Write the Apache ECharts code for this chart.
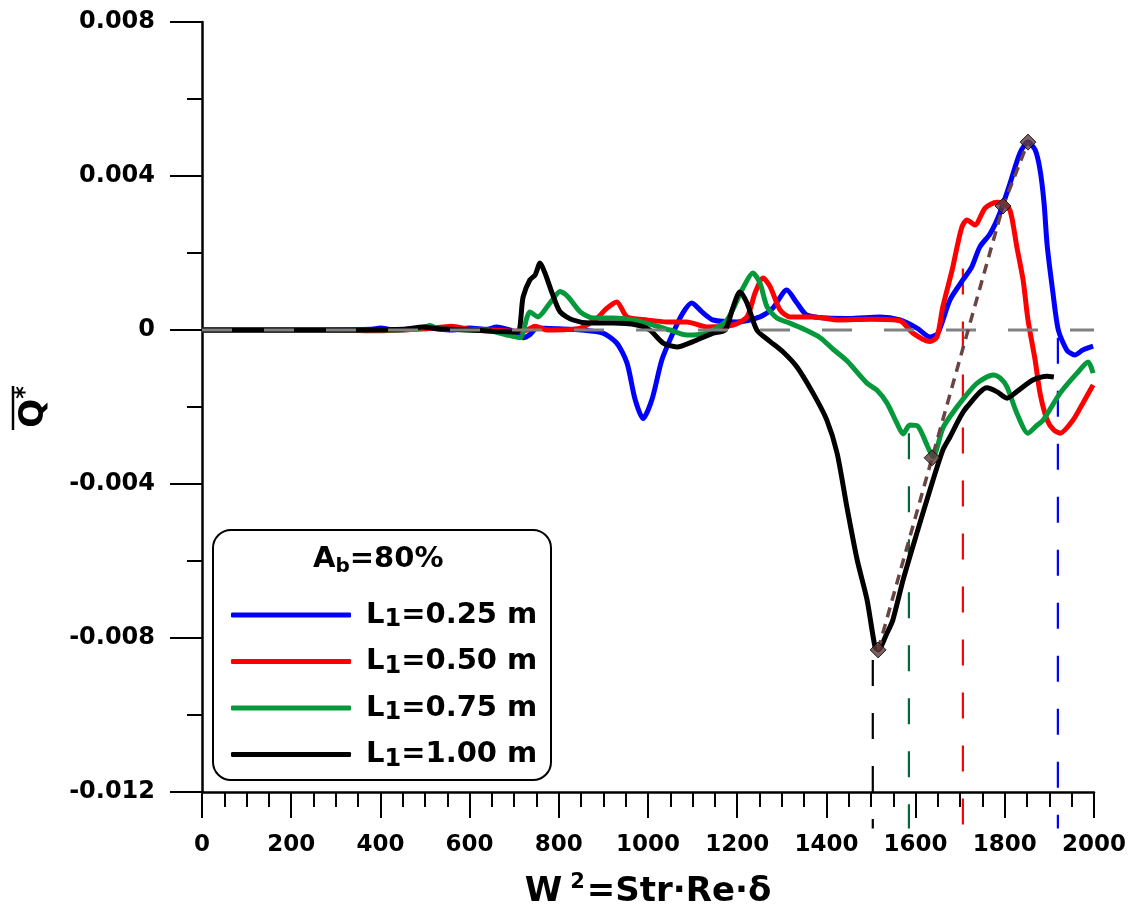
<!DOCTYPE html>
<html><head><meta charset="utf-8">
<script src="https://cdn.jsdelivr.net/npm/echarts@6/dist/echarts.min.js"></script>
<style>html,body{margin:0;padding:0;background:#fff}#c{width:1137px;height:909px}</style>
</head><body><div id="c"></div>
<script>
// ---- data ----
const seriesNames = ['L1=0.25 m', 'L1=0.50 m', 'L1=0.75 m', 'L1=1.00 m'];
const xTickValues = [0, 200, 400, 600, 800, 1000, 1200, 1400, 1600, 1800, 2000];
const yTickValues = [-0.012, -0.008, -0.004, 0, 0.004, 0.008];

const blueData = [[0,0],[100,0],[200,0],[300,0],[380,0.02e-3],[400,0.05e-3],[430,0],[500,0.05e-3],[560,0],[600,0.05e-3],[640,0.02e-3],[660,0.08e-3],[690,0],[710,-0.1e-3],[720,-0.2e-3],[735,-0.12e-3],[751,0.05e-3],[800,0.03e-3],[850,0],[899,-0.08e-3],[930,-0.34e-3],[953,-0.86e-3],[971,-1.8e-3],[989,-2.3e-3],[1009,-1.8e-3],[1031,-0.78e-3],[1056,-0.08e-3],[1078,0.44e-3],[1098,0.7e-3],[1121,0.47e-3],[1146,0.26e-3],[1200,0.21e-3],[1251,0.34e-3],[1280,0.57e-3],[1311,1.04e-3],[1334,0.7e-3],[1356,0.39e-3],[1401,0.31e-3],[1450,0.3e-3],[1520,0.34e-3],[1565,0.26e-3],[1603,0.05e-3],[1632,-0.18e-3],[1650,-0.08e-3],[1677,0.78e-3],[1706,1.3e-3],[1726,1.64e-3],[1744,2.16e-3],[1767,2.5e-3],[1789,3.04e-3],[1812,3.82e-3],[1834,4.6e-3],[1852,4.88e-3],[1868,4.68e-3],[1879,4.16e-3],[1888,3.3e-3],[1895,2.2e-3],[1908,0.96e-3],[1920,0],[1939,-0.52e-3],[1957,-0.65e-3],[1975,-0.52e-3],[1998,-0.42e-3]];

const redData = [[0,0],[300,0],[400,-0.02e-3],[450,0],[500,0.03e-3],[560,0.1e-3],[600,0.02e-3],[650,0],[700,-0.03e-3],[729,0],[747,0.1e-3],[773,0],[848,0.05e-3],[885,0.3e-3],[908,0.57e-3],[930,0.73e-3],[953,0.34e-3],[998,0.26e-3],[1043,0.21e-3],[1087,0.21e-3],[1132,0.08e-3],[1191,0.13e-3],[1222,0.34e-3],[1240,0.96e-3],[1258,1.35e-3],[1274,1.12e-3],[1296,0.52e-3],[1318,0.34e-3],[1370,0.34e-3],[1430,0.26e-3],[1500,0.28e-3],[1565,0.24e-3],[1594,-0.08e-3],[1632,-0.3e-3],[1648,-0.18e-3],[1661,0.6e-3],[1682,1.56e-3],[1693,2.16e-3],[1704,2.68e-3],[1715,2.86e-3],[1733,2.73e-3],[1756,3.17e-3],[1782,3.32e-3],[1796,3.3e-3],[1812,3.1e-3],[1827,2.16e-3],[1841,1.3e-3],[1852,0.26e-3],[1868,-0.78e-3],[1879,-1.64e-3],[1895,-2.34e-3],[1910,-2.6e-3],[1924,-2.68e-3],[1953,-2.34e-3],[1975,-1.9e-3],[1998,-1.43e-3]];

const greenData = [[0,0],[300,0],[450,0],[490,0.05e-3],[511,0.12e-3],[530,0.03e-3],[600,0],[650,-0.03e-3],[684,-0.13e-3],[713,-0.2e-3],[729,0.34e-3],[735,0.47e-3],[753,0.34e-3],[780,0.7e-3],[803,1.0e-3],[821,0.86e-3],[848,0.47e-3],[877,0.31e-3],[922,0.31e-3],[966,0.26e-3],[1011,0.13e-3],[1049,0],[1087,-0.13e-3],[1132,-0.08e-3],[1177,0.26e-3],[1213,1.09e-3],[1235,1.48e-3],[1251,1.22e-3],[1267,0.6e-3],[1289,0.31e-3],[1318,0.18e-3],[1350,0.02e-3],[1386,-0.2e-3],[1415,-0.5e-3],[1446,-0.8e-3],[1491,-1.38e-3],[1513,-1.56e-3],[1536,-1.9e-3],[1558,-2.42e-3],[1572,-2.7e-3],[1587,-2.47e-3],[1605,-2.5e-3],[1626,-3.0e-3],[1639,-3.3e-3],[1661,-2.55e-3],[1680,-2.2e-3],[1706,-1.8e-3],[1738,-1.38e-3],[1774,-1.17e-3],[1790,-1.25e-3],[1805,-1.48e-3],[1827,-2.16e-3],[1852,-2.68e-3],[1870,-2.5e-3],[1886,-2.34e-3],[1924,-1.64e-3],[1962,-1.12e-3],[1987,-0.83e-3],[1998,-1.12e-3]];

const blackData = [[0,0],[300,0],[450,0.02e-3],[496,0.08e-3],[530,0.03e-3],[600,0],[650,-0.03e-3],[706,-0.05e-3],[720,0.86e-3],[735,1.3e-3],[747,1.43e-3],[758,1.74e-3],[769,1.48e-3],[785,0.96e-3],[803,0.47e-3],[832,0.26e-3],[870,0.18e-3],[922,0.18e-3],[975,0.13e-3],[1004,0],[1034,-0.34e-3],[1065,-0.44e-3],[1101,-0.3e-3],[1146,-0.08e-3],[1173,0],[1191,0.6e-3],[1206,0.99e-3],[1222,0.7e-3],[1244,0],[1274,-0.3e-3],[1303,-0.57e-3],[1334,-0.96e-3],[1370,-1.64e-3],[1401,-2.34e-3],[1424,-3.2e-3],[1446,-4.6e-3],[1469,-5.97e-3],[1491,-7.0e-3],[1509,-8.23e-3],[1516,-8.31e-3],[1536,-7.87e-3],[1549,-7.53e-3],[1572,-6.49e-3],[1603,-5.27e-3],[1632,-4.16e-3],[1661,-3.12e-3],[1677,-2.78e-3],[1700,-2.26e-3],[1715,-2.0e-3],[1760,-1.5e-3],[1782,-1.6e-3],[1805,-1.77e-3],[1827,-1.6e-3],[1863,-1.3e-3],[1895,-1.2e-3],[1910,-1.22e-3]];

const peakPoints = [[1516,-8.31e-3],[1637,-3.32e-3],[1796,3.22e-3],[1852,4.88e-3]];
const dropX = [1504, 1585, 1706, 1919];
const dropTop = [-8.57e-3, -2.68e-3, 1.6e-3, -0.2e-3];
const dropBottom = -12.95e-3;
const zeroLine = [[0,0],[2000,0]];

// ---- styles ----
const FONT = 'DejaVu Sans';
const curveColors = ['#0000ff', '#ff0000', '#06993c', '#000000'];
const dropColors = ['#000000', '#006b33', '#ff0000', '#0000ff'];
const curveData = [blueData, redData, greenData, blackData];

const series = [];
curveData.forEach((d, i) => {
  series.push({
    name: seriesNames[i], type: 'line', data: d, symbol: 'none', smooth: 0.25,
    lineStyle: { color: curveColors[i], width: 5 }, itemStyle: { color: curveColors[i] },
    z: 3 + i, silent: true
  });
});
dropX.forEach((x, i) => {
  series.push({
    name: 'drop' + i, type: 'line', data: [[x, dropTop[i]], [x, dropBottom]], symbol: 'none', clip: false,
    lineStyle: { color: dropColors[i], width: 2.2, type: [26, 27] }, z: 2, silent: true
  });
});
series.push({
  name: 'zero', type: 'line', data: zeroLine, symbol: 'none',
  lineStyle: { color: '#808080', width: 3, type: [30, 32] }, z: 9, silent: true
});
series.push({
  name: 'peaks-line', type: 'line', data: peakPoints, symbol: 'none',
  lineStyle: { color: '#6a4343', width: 3.5, type: [10, 7] }, z: 10, silent: true
});
series.push({
  name: 'peaks', type: 'scatter', data: peakPoints, symbol: 'diamond', symbolSize: 16,
  itemStyle: { color: '#5c3a3a', borderColor: '#000', borderWidth: 1 }, z: 11, silent: true
});

const option = {
  animation: false,
  backgroundColor: '#fff',
  grid: { left: 202, right: 43, top: 22, bottom: 117, containLabel: false, outerBoundsMode: 'none' },
  xAxis: {
    type: 'value', min: 0, max: 2000, interval: 200,
    name: '{w|W}{s|2}{w|=Str·Re·δ}', nameLocation: 'middle', nameGap: 80,
    nameTextStyle: { rich: {
      w: { fontFamily: FONT, fontWeight: 'bold', fontSize: 34, color: '#000', lineHeight: 40 },
      s: { fontFamily: FONT, fontWeight: 'bold', fontSize: 21, color: '#000', lineHeight: 22, verticalAlign: 'top', padding: [0, 2, 0, 8] }
    } },
    axisLine: { onZero: false, lineStyle: { color: '#000', width: 2.5 } },
    axisTick: { inside: false, length: 26, lineStyle: { color: '#000', width: 2 } },
    minorTick: { show: true, splitNumber: 4, length: 15, lineStyle: { color: '#000', width: 2 } },
    splitLine: { show: false },
    axisLabel: { margin: 42, fontFamily: FONT, fontWeight: 'bold', fontSize: 23, color: '#000',
      formatter: v => String(xTickValues.find(t => Math.abs(t - v) < 1e-6) ?? v) }
  },
  yAxis: {
    type: 'value', min: -0.012, max: 0.008, interval: 0.004,
    name: '{q|Q}{s|*}', nameLocation: 'middle', nameRotate: 90, nameGap: 148,
    nameTextStyle: { rich: {
      q: { fontFamily: FONT, fontWeight: 'bold', fontSize: 34, color: '#000', lineHeight: 40 },
      s: { fontFamily: FONT, fontWeight: 'bold', fontSize: 24, color: '#000', lineHeight: 24, verticalAlign: 'top' }
    } },
    axisLine: { onZero: false, lineStyle: { color: '#000', width: 2.5 } },
    axisTick: { inside: false, length: 32, lineStyle: { color: '#000', width: 2 } },
    minorTick: { show: true, splitNumber: 2, length: 15, lineStyle: { color: '#000', width: 2 } },
    splitLine: { show: false },
    axisLabel: { margin: 47, fontFamily: FONT, fontWeight: 'bold', fontSize: 24, color: '#000',
      formatter: v => {
        const t = yTickValues.find(t => Math.abs(t - v) < 1e-9);
        return t === 0 ? '0' : t.toFixed(3);
      } }
  },
  legend: {
    data: seriesNames, orient: 'vertical', left: 226, top: 593, itemGap: 12.5,
    icon: 'roundRect', itemWidth: 120, itemHeight: 5, selectedMode: false,
    formatter: name => '{g|}{n|L}{s|1}{n|' + name.slice(2) + '}',
    textStyle: { color: '#000', fontFamily: FONT, fontWeight: 'bold', fontSize: 29, lineHeight: 34,
      rich: {
        g: { width: 10 },
        n: { fontFamily: FONT, fontWeight: 'bold', fontSize: 29, lineHeight: 34, color: '#000' },
        s: { fontFamily: FONT, fontWeight: 'bold', fontSize: 24, lineHeight: 24, color: '#000', verticalAlign: 'bottom' }
      } }
  },
  graphic: [
    { type: 'rect', left: 212, top: 529, shape: { width: 338, height: 250, r: 18 },
      style: { fill: 'rgba(0,0,0,0)', stroke: '#000', lineWidth: 2 }, z: 20, silent: true },
    { type: 'text', left: 313, top: 545, z: 21, silent: true,
      style: { text: '{a|A}{b|b}{a|=80%}', rich: {
        a: { fontFamily: FONT, fontWeight: 'bold', fontSize: 29, lineHeight: 34, fill: '#000' },
        b: { fontFamily: FONT, fontWeight: 'bold', fontSize: 20, lineHeight: 24, fill: '#000', verticalAlign: 'bottom' }
      } } },
    { type: 'line', shape: { x1: 13, y1: 386, x2: 13, y2: 430 }, style: { stroke: '#000', lineWidth: 2.5 }, silent: true }
  ],
  series: series
};
const chart = echarts.init(document.getElementById('c'), null, { renderer: 'canvas' });
chart.setOption(option);
</script>
</body></html>
